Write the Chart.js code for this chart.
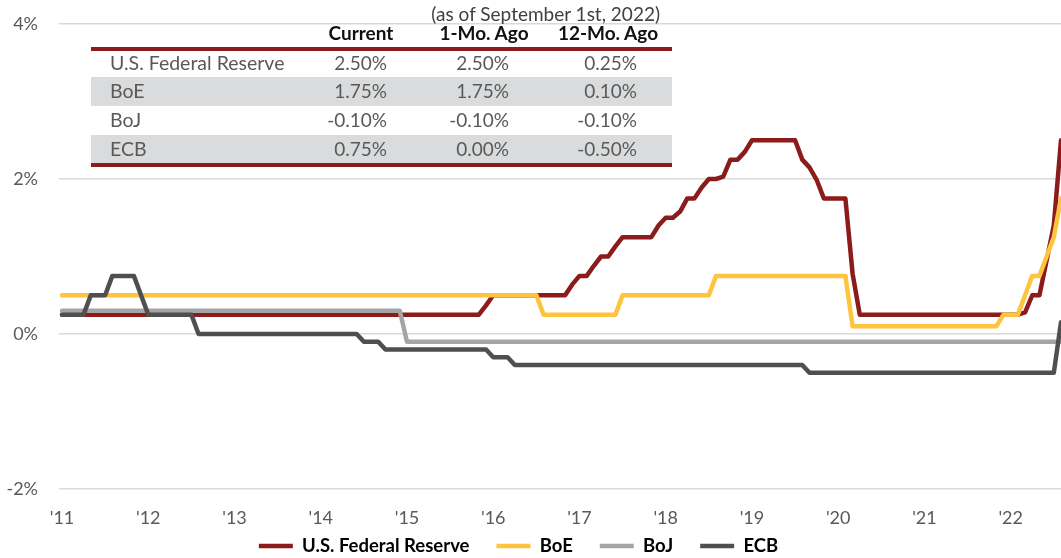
<!DOCTYPE html>
<html>
<head>
<meta charset="utf-8">
<script src="https://cdn.jsdelivr.net/npm/chart.js@4.4.0/dist/chart.umd.min.js"></script>
<style>
  body { margin: 0; background: #fff; font-family: Lato, sans-serif; }
  #wrap { position: relative; width: 1061px; height: 558px; }
  #rates { position: absolute; left: 0; top: 0; width: 1061px; height: 558px; pointer-events: none; }
  #rates div { position: absolute; white-space: nowrap; font-size: 19px; line-height: 24px; }
</style>
</head>
<body>
<div id="wrap">
  <canvas id="mycanvas" width="1061" height="558"></canvas>
  <div id="rates"></div>
</div>
<script>
// policy rates, monthly, Jan 2011 - Aug 2022 (one row per year)
var fedRate = [
  0.25,0.25,0.25,0.25,0.25,0.25,0.25,0.25,0.25,0.25,0.25,0.25,
  0.25,0.25,0.25,0.25,0.25,0.25,0.25,0.25,0.25,0.25,0.25,0.25,
  0.25,0.25,0.25,0.25,0.25,0.25,0.25,0.25,0.25,0.25,0.25,0.25,
  0.25,0.25,0.25,0.25,0.25,0.25,0.25,0.25,0.25,0.25,0.25,0.25,
  0.25,0.25,0.25,0.25,0.25,0.25,0.25,0.25,0.25,0.25,0.25,0.37,
  0.5,0.5,0.5,0.5,0.5,0.5,0.5,0.5,0.5,0.5,0.5,0.64,
  0.75,0.75,0.88,1.0,1.0,1.13,1.25,1.25,1.25,1.25,1.25,1.4,
  1.5,1.5,1.58,1.75,1.75,1.89,2.0,2.0,2.03,2.25,2.25,2.35,
  2.5,2.5,2.5,2.5,2.5,2.5,2.5,2.25,2.15,1.99,1.75,1.75,
  1.75,1.75,0.78,0.25,0.25,0.25,0.25,0.25,0.25,0.25,0.25,0.25,
  0.25,0.25,0.25,0.25,0.25,0.25,0.25,0.25,0.25,0.25,0.25,0.25,
  0.25,0.25,0.28,0.5,0.5,0.95,1.4,2.5
];
var boeRate = [
  0.5,0.5,0.5,0.5,0.5,0.5,0.5,0.5,0.5,0.5,0.5,0.5,
  0.5,0.5,0.5,0.5,0.5,0.5,0.5,0.5,0.5,0.5,0.5,0.5,
  0.5,0.5,0.5,0.5,0.5,0.5,0.5,0.5,0.5,0.5,0.5,0.5,
  0.5,0.5,0.5,0.5,0.5,0.5,0.5,0.5,0.5,0.5,0.5,0.5,
  0.5,0.5,0.5,0.5,0.5,0.5,0.5,0.5,0.5,0.5,0.5,0.5,
  0.5,0.5,0.5,0.5,0.5,0.5,0.5,0.25,0.25,0.25,0.25,0.25,
  0.25,0.25,0.25,0.25,0.25,0.25,0.5,0.5,0.5,0.5,0.5,0.5,
  0.5,0.5,0.5,0.5,0.5,0.5,0.5,0.75,0.75,0.75,0.75,0.75,
  0.75,0.75,0.75,0.75,0.75,0.75,0.75,0.75,0.75,0.75,0.75,0.75,
  0.75,0.75,0.1,0.1,0.1,0.1,0.1,0.1,0.1,0.1,0.1,0.1,
  0.1,0.1,0.1,0.1,0.1,0.1,0.1,0.1,0.1,0.1,0.1,0.25,
  0.25,0.25,0.5,0.75,0.75,1.0,1.25,1.75
];
var bojRate = [
  0.3,0.3,0.3,0.3,0.3,0.3,0.3,0.3,0.3,0.3,0.3,0.3,
  0.3,0.3,0.3,0.3,0.3,0.3,0.3,0.3,0.3,0.3,0.3,0.3,
  0.3,0.3,0.3,0.3,0.3,0.3,0.3,0.3,0.3,0.3,0.3,0.3,
  0.3,0.3,0.3,0.3,0.3,0.3,0.3,0.3,0.3,0.3,0.3,0.3,
  -0.1,-0.1,-0.1,-0.1,-0.1,-0.1,-0.1,-0.1,-0.1,-0.1,-0.1,-0.1,
  -0.1,-0.1,-0.1,-0.1,-0.1,-0.1,-0.1,-0.1,-0.1,-0.1,-0.1,-0.1,
  -0.1,-0.1,-0.1,-0.1,-0.1,-0.1,-0.1,-0.1,-0.1,-0.1,-0.1,-0.1,
  -0.1,-0.1,-0.1,-0.1,-0.1,-0.1,-0.1,-0.1,-0.1,-0.1,-0.1,-0.1,
  -0.1,-0.1,-0.1,-0.1,-0.1,-0.1,-0.1,-0.1,-0.1,-0.1,-0.1,-0.1,
  -0.1,-0.1,-0.1,-0.1,-0.1,-0.1,-0.1,-0.1,-0.1,-0.1,-0.1,-0.1,
  -0.1,-0.1,-0.1,-0.1,-0.1,-0.1,-0.1,-0.1,-0.1,-0.1,-0.1,-0.1,
  -0.1,-0.1,-0.1,-0.1,-0.1,-0.1,-0.1,-0.1
];
var ecbRate = [
  0.25,0.25,0.25,0.25,0.5,0.5,0.5,0.75,0.75,0.75,0.75,0.5,
  0.25,0.25,0.25,0.25,0.25,0.25,0.25,0,0,0,0,0,
  0,0,0,0,0,0,0,0,0,0,0,0,
  0,0,0,0,0,0,-0.1,-0.1,-0.1,-0.2,-0.2,-0.2,
  -0.2,-0.2,-0.2,-0.2,-0.2,-0.2,-0.2,-0.2,-0.2,-0.2,-0.2,-0.2,
  -0.3,-0.3,-0.3,-0.4,-0.4,-0.4,-0.4,-0.4,-0.4,-0.4,-0.4,-0.4,
  -0.4,-0.4,-0.4,-0.4,-0.4,-0.4,-0.4,-0.4,-0.4,-0.4,-0.4,-0.4,
  -0.4,-0.4,-0.4,-0.4,-0.4,-0.4,-0.4,-0.4,-0.4,-0.4,-0.4,-0.4,
  -0.4,-0.4,-0.4,-0.4,-0.4,-0.4,-0.4,-0.4,-0.5,-0.5,-0.5,-0.5,
  -0.5,-0.5,-0.5,-0.5,-0.5,-0.5,-0.5,-0.5,-0.5,-0.5,-0.5,-0.5,
  -0.5,-0.5,-0.5,-0.5,-0.5,-0.5,-0.5,-0.5,-0.5,-0.5,-0.5,-0.5,
  -0.5,-0.5,-0.5,-0.5,-0.5,-0.5,-0.5,0.15
];

var years = ['2011','2012','2013','2014','2015','2016','2017','2018','2019','2020','2021','2022'];
var monthNames = ['Jan','Feb','Mar','Apr','May','Jun','Jul','Aug','Sep','Oct','Nov','Dec'];
var yearTicks = ["'11","'12","'13","'14","'15","'16","'17","'18","'19","'20","'21","'22"];

// table in the top left corner
var tableTitle = '(as of September 1st, 2022)';
var tableHeads = ['Current', '1-Mo. Ago', '12-Mo. Ago'];
var tableBanks = ['U.S. Federal Reserve', 'BoE', 'BoJ', 'ECB'];
var tableCurrent = ['2.50%', '1.75%', '-0.10%', '0.75%'];
var tableOneMo = ['2.50%', '1.75%', '-0.10%', '0.00%'];
var tableTwelveMo = ['0.25%', '0.10%', '-0.10%', '-0.50%'];

var fedColor = '#8c1b1b';
var boeColor = '#ffc43d';
var bojColor = '#a5a5a5';
var ecbColor = '#4f4f4f';

var months = [];
years.forEach(function(y) {
	monthNames.forEach(function(m) {
		if (months.length < fedRate.length) months.push(m + ' ' + y);
	});
});

function points(values) {
	return values.map(function(v, i) { return {x: i, y: v}; });
}

function line(label, values, color, order) {
	return {
		label: label,
		data: points(values),
		borderColor: color,
		backgroundColor: color,
		borderWidth: 4.5,
		borderJoinStyle: 'round',
		borderCapStyle: 'round',
		pointRadius: 0,
		tension: 0,
		order: order
	};
}

// ---- table (html on top of the canvas)
var box = document.getElementById('rates');
function addDiv(text, css) {
	var d = document.createElement('div');
	d.textContent = text;
	d.style.cssText = css;
	box.appendChild(d);
}

var bandTop = [51, 77, 106, 135];
var bandHeight = [26, 29, 29, 28];
var rowMid = [63, 91.5, 120.5, 149];
var colRight = [387, 509, 637];
var headMid = [361, 484, 608];

for (var r = 0; r < tableBanks.length; r++) {
	if (r % 2 == 1) {
		addDiv('', 'left:91px;width:581px;top:' + bandTop[r] + 'px;height:' + bandHeight[r] + 'px;background:#dadbdd;');
	}
}
addDiv('', 'left:91px;width:581px;top:47px;height:4px;background:' + fedColor + ';');
addDiv('', 'left:91px;width:581px;top:163px;height:4px;background:' + fedColor + ';');
addDiv(tableTitle, 'right:' + (1061 - 660) + 'px;top:2px;color:#404040;');
tableHeads.forEach(function(h, c) {
	addDiv(h, 'left:' + (headMid[c] - 70) + 'px;width:140px;text-align:center;top:21px;font-weight:bold;color:#111;');
});
tableBanks.forEach(function(b, r) {
	var top = (rowMid[r] - 12.5) + 'px;';
	addDiv(b, 'left:110px;top:' + top + 'color:#595959;font-size:19.5px;');
	[tableCurrent, tableOneMo, tableTwelveMo].forEach(function(col, c) {
		addDiv(col[r], 'right:' + (1061 - colRight[c]) + 'px;top:' + top + 'color:#595959;');
	});
});

// ---- chart
Chart.defaults.font.family = 'Lato';

// legend keeps its wide item spacing but sits closer to the axis labels
var legendPlace = {
	id: 'legendPlace',
	afterLayout: function(chart) {
		var lg = chart.legend;
		lg.top = chart.chartArea.bottom + 20.75;
		lg.height = 60;
		lg.bottom = lg.top + 60;
		lg.left -= 12;
		lg.right -= 12;
	}
};

var ctx = document.getElementById('mycanvas');
var rateChart = new Chart(ctx, {
	type: 'line',
	data: {
		datasets: [
			line('U.S. Federal Reserve', fedRate, fedColor, 3),
			line('BoE', boeRate, boeColor, 2),
			line('BoJ', bojRate, bojColor, 1),
			line('ECB', ecbRate, ecbColor, 0)
		]
	},
	plugins: [legendPlace],
	options: {
		responsive: false,
		animation: false,
		layout: { padding: { top: 24, right: 0, left: 0, bottom: 0 } },
		plugins: {
			tooltip: { enabled: false },
			legend: {
				position: 'bottom',
				reverse: true,
				maxHeight: 29,
				labels: {
					usePointStyle: true,
					pointStyle: 'line',
					pointStyleWidth: 34,
					padding: 27,
					color: '#000',
					font: { size: 18.5, weight: 'bold' }
				}
			}
		},
		scales: {
			x: {
				type: 'linear',
				min: -0.42,
				max: fedRate.length - 1,
				grid: { display: false },
				border: { display: false },
				afterFit: function(scale) { scale.height = 40; },
				afterBuildTicks: function(scale) {
					scale.ticks = yearTicks.map(function(t, k) { return {value: k * 12}; });
				},
				ticks: {
					autoSkip: false,
					maxRotation: 0,
					padding: 10,
					color: '#595959',
					font: { size: 18 },
					callback: function(value) { return yearTicks[Math.round(value / 12)]; }
				}
			},
			y: {
				min: -2,
				max: 4,
				afterFit: function(scale) { scale.width = 59; },
				grid: { color: '#d9d9d9', lineWidth: 1.5, drawTicks: true, tickLength: 21, tickColor: 'rgba(0,0,0,0)' },
				border: { display: false },
				ticks: {
					stepSize: 2,
					padding: 0,
					color: '#595959',
					font: { size: 18 },
					callback: function(value) { return value + '%'; }
				}
			}
		}
	}
});
</script>
</body>
</html>
